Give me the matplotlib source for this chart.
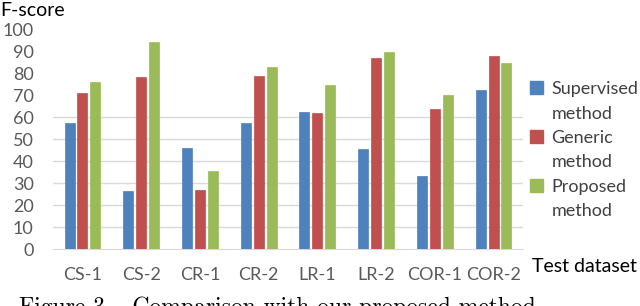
import matplotlib
matplotlib.use("Agg")
import matplotlib.pyplot as plt
from matplotlib.patches import Patch
import numpy as np

datasets = ["CS-1", "CS-2", "CR-1", "CR-2", "LR-1", "LR-2", "COR-1", "COR-2"]
supervised = [57.5, 26.5, 45.8, 57.5, 62.5, 45.5, 33.5, 72.5]
generic = [70.8, 78.3, 27.0, 78.8, 61.8, 86.8, 63.8, 88.0]
proposed = [76.0, 94.0, 35.8, 82.8, 74.5, 89.8, 70.3, 84.5]
series = ["Supervised", "Generic", "Proposed"]
colors = ["#4F81BD", "#C0504D", "#9BBB59"]
yticks = list(range(0, 101, 10))

plt.rcParams["font.family"] = ["Lato", "DejaVu Sans"]

fig = plt.figure(figsize=(6.4, 3.06), dpi=100)
ax = fig.add_axes([0.083, 0.185, 0.734, 0.72])

x = np.arange(len(datasets))
w = 0.17
step = 0.22
for i, (vals, c) in enumerate(zip([supervised, generic, proposed], colors)):
    ax.bar(x + (i - 1) * step, vals, width=w, color=c,
           edgecolor=c, linewidth=0.5, zorder=3)

ax.set_xlim(-0.5, len(datasets) - 0.5)
ax.set_ylim(0, 100)
ax.set_yticks(yticks)
ax.set_xticks(x)
ax.set_xticklabels(datasets)
ax.tick_params(axis="both", length=0, labelsize=13, colors="#595959")
ax.tick_params(axis="x", pad=13)
ax.tick_params(axis="y", pad=14)
for s in ("top", "right", "left"):
    ax.spines[s].set_visible(False)
ax.spines["bottom"].set_color("#D9D9D9")

# faint gridlines (only lower ones survive in the original)
for t in yticks[1:7]:
    ax.axhline(t, color="#D9D9D9", linewidth=1, zorder=0)

# legend labels wrap onto a second line ("method"), so build it as 6 rows
handles, labels = [], []
for name, c in zip(series, colors):
    handles += [Patch(facecolor=c, edgecolor=c),
                Patch(facecolor="none", edgecolor="none")]
    labels += [name, "method"]
leg = ax.legend(handles, labels, loc="center left", bbox_to_anchor=(0.98, 0.45),
                frameon=False, fontsize=13, handlelength=0.75, handleheight=0.75,
                handletextpad=0.45, labelspacing=0.47, labelcolor="#404040")

fig.text(0.0, 0.965, "F-score", fontsize=14, ha="left", va="center")
fig.text(0.832, 0.13, "Test dataset", fontsize=14, ha="left", va="center")
fig.text(0.03, -0.005, "Figure 3 – Comparison with our proposed method",
         fontsize=17, family=["cmr10", "DejaVu Serif"], ha="left", va="center")

fig.savefig("out.png", dpi=100)
